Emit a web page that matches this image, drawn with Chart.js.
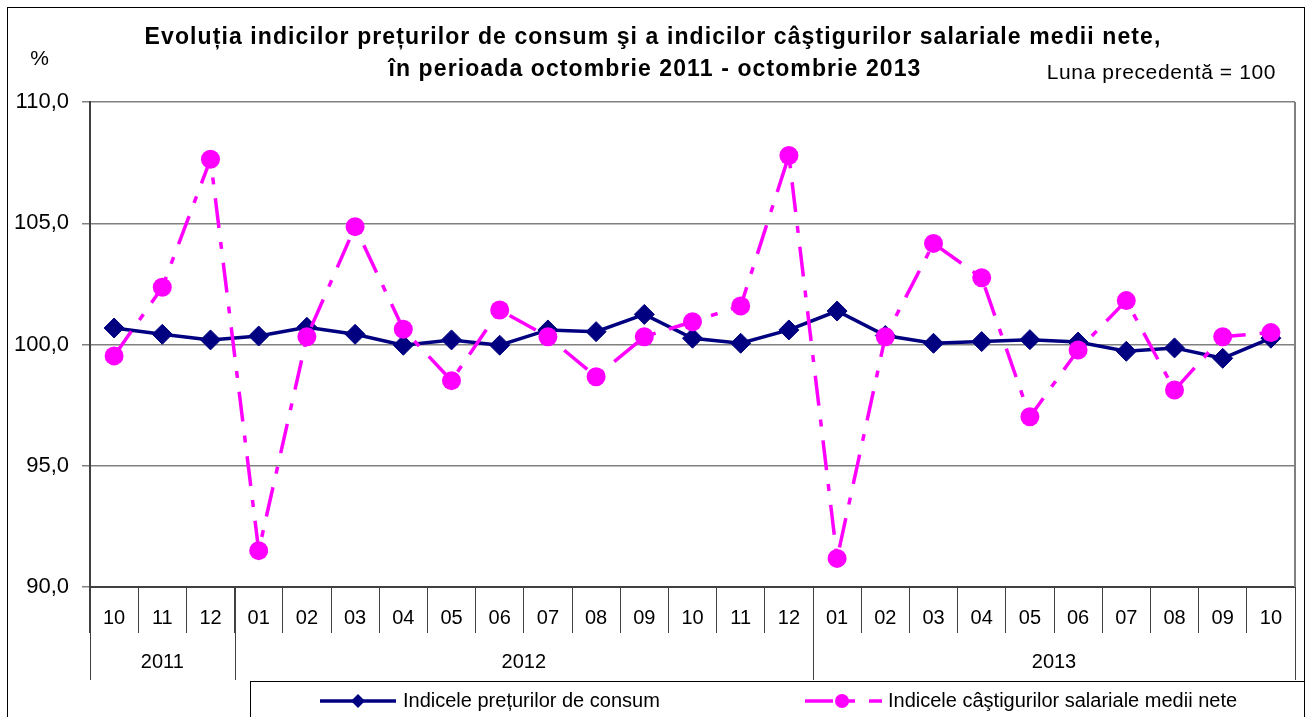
<!DOCTYPE html>
<html>
<head>
<meta charset="utf-8">
<script src="https://cdn.jsdelivr.net/npm/chart.js@4/dist/chart.umd.min.js"></script>
<style>
html,body{margin:0;padding:0;background:#ffffff;}
#wrap{width:1308px;height:717px;position:relative;}
</style>
</head>
<body>
<div id="wrap"><canvas id="c" width="1308" height="717"></canvas></div>
<script>
// ---- data ----
const months = ['10','11','12','01','02','03','04','05','06','07','08','09','10','11','12','01','02','03','04','05','06','07','08','09','10'];
const yearLabels = ['2011','2012','2013'];
const yearSpans = [3, 12, 10];
const cpi = [100.68,100.42,100.19,100.35,100.71,100.42,99.97,100.19,99.97,100.6,100.53,101.24,100.26,100.05,100.6,101.38,100.37,100.05,100.12,100.2,100.1,99.72,99.86,99.43,100.26];
const wages = [99.53,102.36,107.64,91.5,100.32,104.86,100.63,98.51,101.42,100.32,98.67,100.32,100.94,101.59,107.79,91.18,100.32,104.17,102.75,97.02,99.77,101.81,98.12,100.32,100.49];
const seriesNames = ['Indicele prețurilor de consum', 'Indicele câştigurilor salariale medii nete'];
const titleLines = ['Evoluția indicilor prețurilor de consum şi a indicilor câştigurilor salariale medii nete,', 'în perioada octombrie 2011 - octombrie 2013'];
const unitLabel = '%';
const baseNote = 'Luna precedentă = 100';
const yMin = 90, yMax = 110, yStep = 5;

const FONT = "'Liberation Sans', Arial, sans-serif";
const NAVY = '#000080';
const MAGENTA = '#FF00FF';
const DASH = [30, 14, 7, 14];

function spaced(ctx, px) { if ('letterSpacing' in ctx) ctx.letterSpacing = px + 'px'; }

const decor = {
  id: 'decor',
  afterDraw(chart) {
    const ctx = chart.ctx;
    const a = chart.chartArea;
    const xs = chart.scales.x;
    ctx.save();
    // plot area right border
    ctx.strokeStyle = '#808080';
    ctx.lineWidth = 2;
    ctx.beginPath();
    ctx.moveTo(a.right, a.top);
    ctx.lineTo(a.right, a.bottom);
    ctx.stroke();
    // year separators and labels
    const bound = (i) => {
      if (i <= 0) return a.left;
      if (i >= months.length) return a.right;
      return (xs.getPixelForValue(i - 1) + xs.getPixelForValue(i)) / 2;
    };
    ctx.strokeStyle = '#404040';
    ctx.lineWidth = 1;
    let idx = 0;
    const edges = [0];
    yearSpans.forEach(s => { idx += s; edges.push(idx); });
    edges.forEach(e => {
      const px = Math.round(bound(e)) + 0.5;
      ctx.beginPath();
      ctx.moveTo(px, a.bottom);
      ctx.lineTo(px, a.bottom + 93);
      ctx.stroke();
    });
    ctx.fillStyle = '#000';
    ctx.font = '20px ' + FONT;
    ctx.textAlign = 'center';
    ctx.textBaseline = 'middle';
    yearLabels.forEach((lab, k) => {
      const cx = (bound(edges[k]) + bound(edges[k + 1])) / 2;
      ctx.fillText(lab, cx, a.bottom + 75);
    });
    // title
    ctx.font = 'bold 23px ' + FONT;
    spaced(ctx, 1.1);
    ctx.fillText(titleLines[0], 653, 38);
    ctx.fillText(titleLines[1], 655, 70);
    // unit and note
    ctx.font = '21px ' + FONT;
    spaced(ctx, 0.6);
    ctx.fillText(unitLabel, 40, 59);
    ctx.textAlign = 'right';
    ctx.fillText(baseNote, 1276, 73);
    spaced(ctx, 0);
    // outer border
    ctx.strokeStyle = '#000';
    ctx.lineWidth = 1;
    ctx.strokeRect(7.5, 7.5, 1297, 740);
    // legend box
    ctx.fillStyle = '#fff';
    ctx.fillRect(250, 681, 1054, 50);
    ctx.strokeRect(250.5, 681.5, 1054, 60);
    // legend entries
    const ly = 701;
    ctx.lineWidth = 3.5;
    ctx.strokeStyle = NAVY;
    ctx.beginPath(); ctx.moveTo(320, ly); ctx.lineTo(396, ly); ctx.stroke();
    ctx.fillStyle = NAVY;
    ctx.beginPath();
    ctx.moveTo(358 - 7, ly); ctx.lineTo(358, ly - 7); ctx.lineTo(358 + 7, ly); ctx.lineTo(358, ly + 7); ctx.closePath(); ctx.fill();
    ctx.strokeStyle = MAGENTA;
    ctx.setLineDash([28, 14, 8, 14]);
    ctx.beginPath(); ctx.moveTo(805, ly); ctx.lineTo(882, ly); ctx.stroke();
    ctx.setLineDash([]);
    ctx.fillStyle = MAGENTA;
    ctx.beginPath(); ctx.arc(842, ly, 7, 0, Math.PI * 2); ctx.fill();
    ctx.fillStyle = '#000';
    ctx.font = '20px ' + FONT;
    ctx.textAlign = 'left';
    ctx.textBaseline = 'middle';
    ctx.fillText(seriesNames[0], 403, ly);
    ctx.fillText(seriesNames[1], 888, ly);
    ctx.restore();
  }
};

new Chart(document.getElementById('c'), {
  type: 'line',
  data: {
    labels: months,
    datasets: [
      {
        label: seriesNames[0],
        data: cpi,
        borderColor: NAVY,
        backgroundColor: NAVY,
        borderWidth: 3.5,
        pointStyle: 'rectRot',
        pointRadius: 10,
        pointBorderWidth: 1,
        pointBackgroundColor: NAVY,
        pointBorderColor: NAVY,
        tension: 0,
        order: 2
      },
      {
        label: seriesNames[1],
        data: wages,
        borderColor: MAGENTA,
        backgroundColor: MAGENTA,
        borderWidth: 3.5,
        borderDash: DASH,
        pointStyle: 'circle',
        pointRadius: 9.5,
        pointBorderWidth: 0,
        pointBackgroundColor: MAGENTA,
        pointBorderColor: MAGENTA,
        tension: 0,
        order: 1
      }
    ]
  },
  options: {
    responsive: false,
    animation: false,
    devicePixelRatio: 1,
    layout: { padding: { top: 102, right: 13, left: 0, bottom: 0 } },
    plugins: { legend: { display: false }, title: { display: false }, tooltip: { enabled: false } },
    scales: {
      x: {
        type: 'category',
        offset: true,
        grid: { offset: true, drawOnChartArea: false, drawTicks: true, tickLength: 46, color: '#404040', lineWidth: 1 },
        border: { color: '#404040', width: 2 },
        ticks: { autoSkip: false, maxRotation: 0, minRotation: 0, padding: -27, color: '#000', font: { family: FONT, size: 20 } },
        afterFit: (s) => { s.height = 130; }
      },
      y: {
        min: yMin,
        max: yMax,
        ticks: { stepSize: yStep, padding: 13, color: '#000', font: { family: FONT, size: 22 },
          callback: (v) => Number(v).toFixed(1).replace('.', ',') },
        grid: { color: '#808080', lineWidth: 1.5, tickLength: 8, drawTicks: true },
        border: { color: '#404040', width: 2 },
        afterFit: (s) => { s.width = 90; }
      }
    }
  },
  plugins: [decor]
});
</script>
</body>
</html>
